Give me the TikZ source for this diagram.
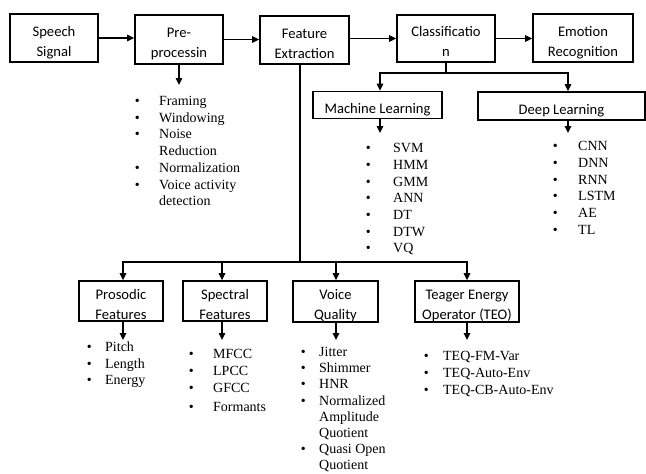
\documentclass[tikz,border=0pt]{standalone}
\usepackage{fontspec}
\setmainfont{Liberation Serif}
\newfontfamily\boxfont{Carlito}
\usetikzlibrary{arrows.meta}
\newcommand{\mybul}[1]{\makebox[0pt][r]{\textbullet\hspace{\dimexpr #1pt-2.5pt\relax}}}
\newcommand{\btxt}[1]{\smash{\raisebox{-8pt}{\begin{tabular}{@{}c@{}}#1\end{tabular}}}}
\begin{document}
\begin{tikzpicture}[x=1pt,y=1pt,
  box/.style={draw, line width=1.6pt, align=center, inner sep=0pt, font={\boxfont\fontsize{14.6}{20}\selectfont}},
  arr/.style={line width=1.3pt, -{Triangle[length=7pt,width=6.5pt]}},
  conn/.style={line width=1.3pt},
  lst/.style={anchor=base west, inner sep=0pt, font={\fontsize{14}{16.7}\selectfont}}]
\useasboundingbox (0,0) rectangle (646,-474);
% top row
\node[box, minimum width=88, minimum height=48] (ss) at (54,-38) {\btxt{Speech\\Signal}};
\node[box, minimum width=88, minimum height=49] (pp) at (179,-39.5) {\btxt{Pre-\\processin}};
\node[box, minimum width=89, minimum height=48] (fe) at (304.5,-40) {\btxt{Feature\\Extraction}};
\node[box, minimum width=98, minimum height=47] (cl) at (446,-38.5) {\btxt{Classificatio\\n}};
\node[box, minimum width=100, minimum height=48] (er) at (583,-38) {\btxt{Emotion\\Recognition}};
% second level
\node[box, minimum width=129, minimum height=27] (ml) at (377.5,-105) {\btxt{Machine Learning}};
\node[box, minimum width=167, minimum height=28] (dl) at (561.5,-106) {\btxt{Deep Learning}};
% bottom boxes
\node[box, minimum width=84, minimum height=40] (pf) at (121,-301) {\btxt{Prosodic\\Features}};
\node[box, minimum width=84, minimum height=40] (sf) at (225,-301) {\btxt{Spectral\\Features}};
\node[box, minimum width=85, minimum height=41] (vq) at (335.5,-301.5) {\btxt{Voice\\Quality}};
\node[box, minimum width=104, minimum height=41] (teo) at (467,-301.5) {\btxt{Teager Energy\\Operator (TEO)}};
% lists
\node[lst] (ppl) at (159,-105.5) {\begin{tabular}[t]{@{}l@{}}\mybul{22}Framing\\ \mybul{22}Windowing\\ \mybul{22}Noise\\ Reduction\\ \mybul{22}Normalization\\ \mybul{22}Voice activity\\ detection\end{tabular}};
\node[lst] (mll) at (393,-152.6) {\begin{tabular}[t]{@{}l@{}}\mybul{25}SVM\\ \mybul{25}HMM\\ \mybul{25}GMM\\ \mybul{25}ANN\\ \mybul{25}DT\\ \mybul{25}DTW\\ \mybul{25}VQ\end{tabular}};
\node[lst] (dll) at (578,-150.6) {\begin{tabular}[t]{@{}l@{}}\mybul{23}CNN\\ \mybul{23}DNN\\ \mybul{23}RNN\\ \mybul{23}LSTM\\ \mybul{23}AE\\ \mybul{23}TL\end{tabular}};
\node[lst] (pfl) at (105,-351.5) {\begin{tabular}[t]{@{}l@{}}\mybul{16}Pitch\\ \mybul{16}Length\\ \mybul{16}Energy\end{tabular}};
\node[lst] (sfl) at (213,-358.6) {\begin{tabular}[t]{@{}l@{}}\mybul{22}MFCC\\ \mybul{22}LPCC\\ \mybul{22}GFCC\\[2.5pt] \mybul{22}Formants\end{tabular}};
\node[lst, font={\fontsize{14}{16.2}\selectfont}] (vql) at (319,-356.5) {\begin{tabular}[t]{@{}l@{}}\mybul{16}Jitter\\ \mybul{16}Shimmer\\ \mybul{16}HNR\\ \mybul{16}Normalized\\ Amplitude\\ Quotient\\ \mybul{16}Quasi Open\\ Quotient\end{tabular}};
\node[lst] (teol) at (443,-360.6) {\begin{tabular}[t]{@{}l@{}}\mybul{17}TEQ-FM-Var\\ \mybul{17}TEQ-Auto-Env\\ \mybul{17}TEQ-CB-Auto-Env\end{tabular}};
% top connectors
\draw[arr] (ss.east) -- (ss.east -| pp.west);
\draw[arr] (pp.east) -- (pp.east -| fe.west);
\draw[arr] (fe.east |- cl.west) -- (cl.west);
\draw[arr] (cl.east) -- (cl.east -| er.west);
\coordinate (ppend) at (179,-85);
\draw[arr] (pp.south) -- (ppend);
% classification branch
\coordinate (clj) at (446,-73);
\draw[conn] (cl.south) -- (clj);
\draw[arr] (clj) -| ([xshift=2.5pt]ml.north);
\draw[arr] (clj) -| ([xshift=6.5pt]dl.north);
\coordinate (mlend) at (380,-133);
\coordinate (dlend) at (568,-133);
\draw[arr] (ml.south -| mlend) -- (mlend);
\draw[arr] (dl.south -| dlend) -- (dlend);
% feature extraction branch
\coordinate (fej) at (300,-262);
\draw[conn] (fe.south -| fej) -- (fej);
\draw[arr] (fej) -| ([xshift=2pt]pf.north);
\draw[arr] (fej) -| ([xshift=-3pt]sf.north);
\draw[arr] (fej) -| ([xshift=0.5pt]vq.north);
\draw[arr] (fej) -| (teo.north);
\coordinate (pfend) at (123,-340);
\coordinate (sfend) at (222,-340);
\coordinate (vqend) at (336,-340);
\coordinate (teoend) at (467,-340);
\draw[arr] (pf.south -| pfend) -- (pfend);
\draw[arr] (sf.south -| sfend) -- (sfend);
\draw[arr] (vq.south -| vqend) -- (vqend);
\draw[arr] (teo.south -| teoend) -- (teoend);
\end{tikzpicture}
\end{document}
